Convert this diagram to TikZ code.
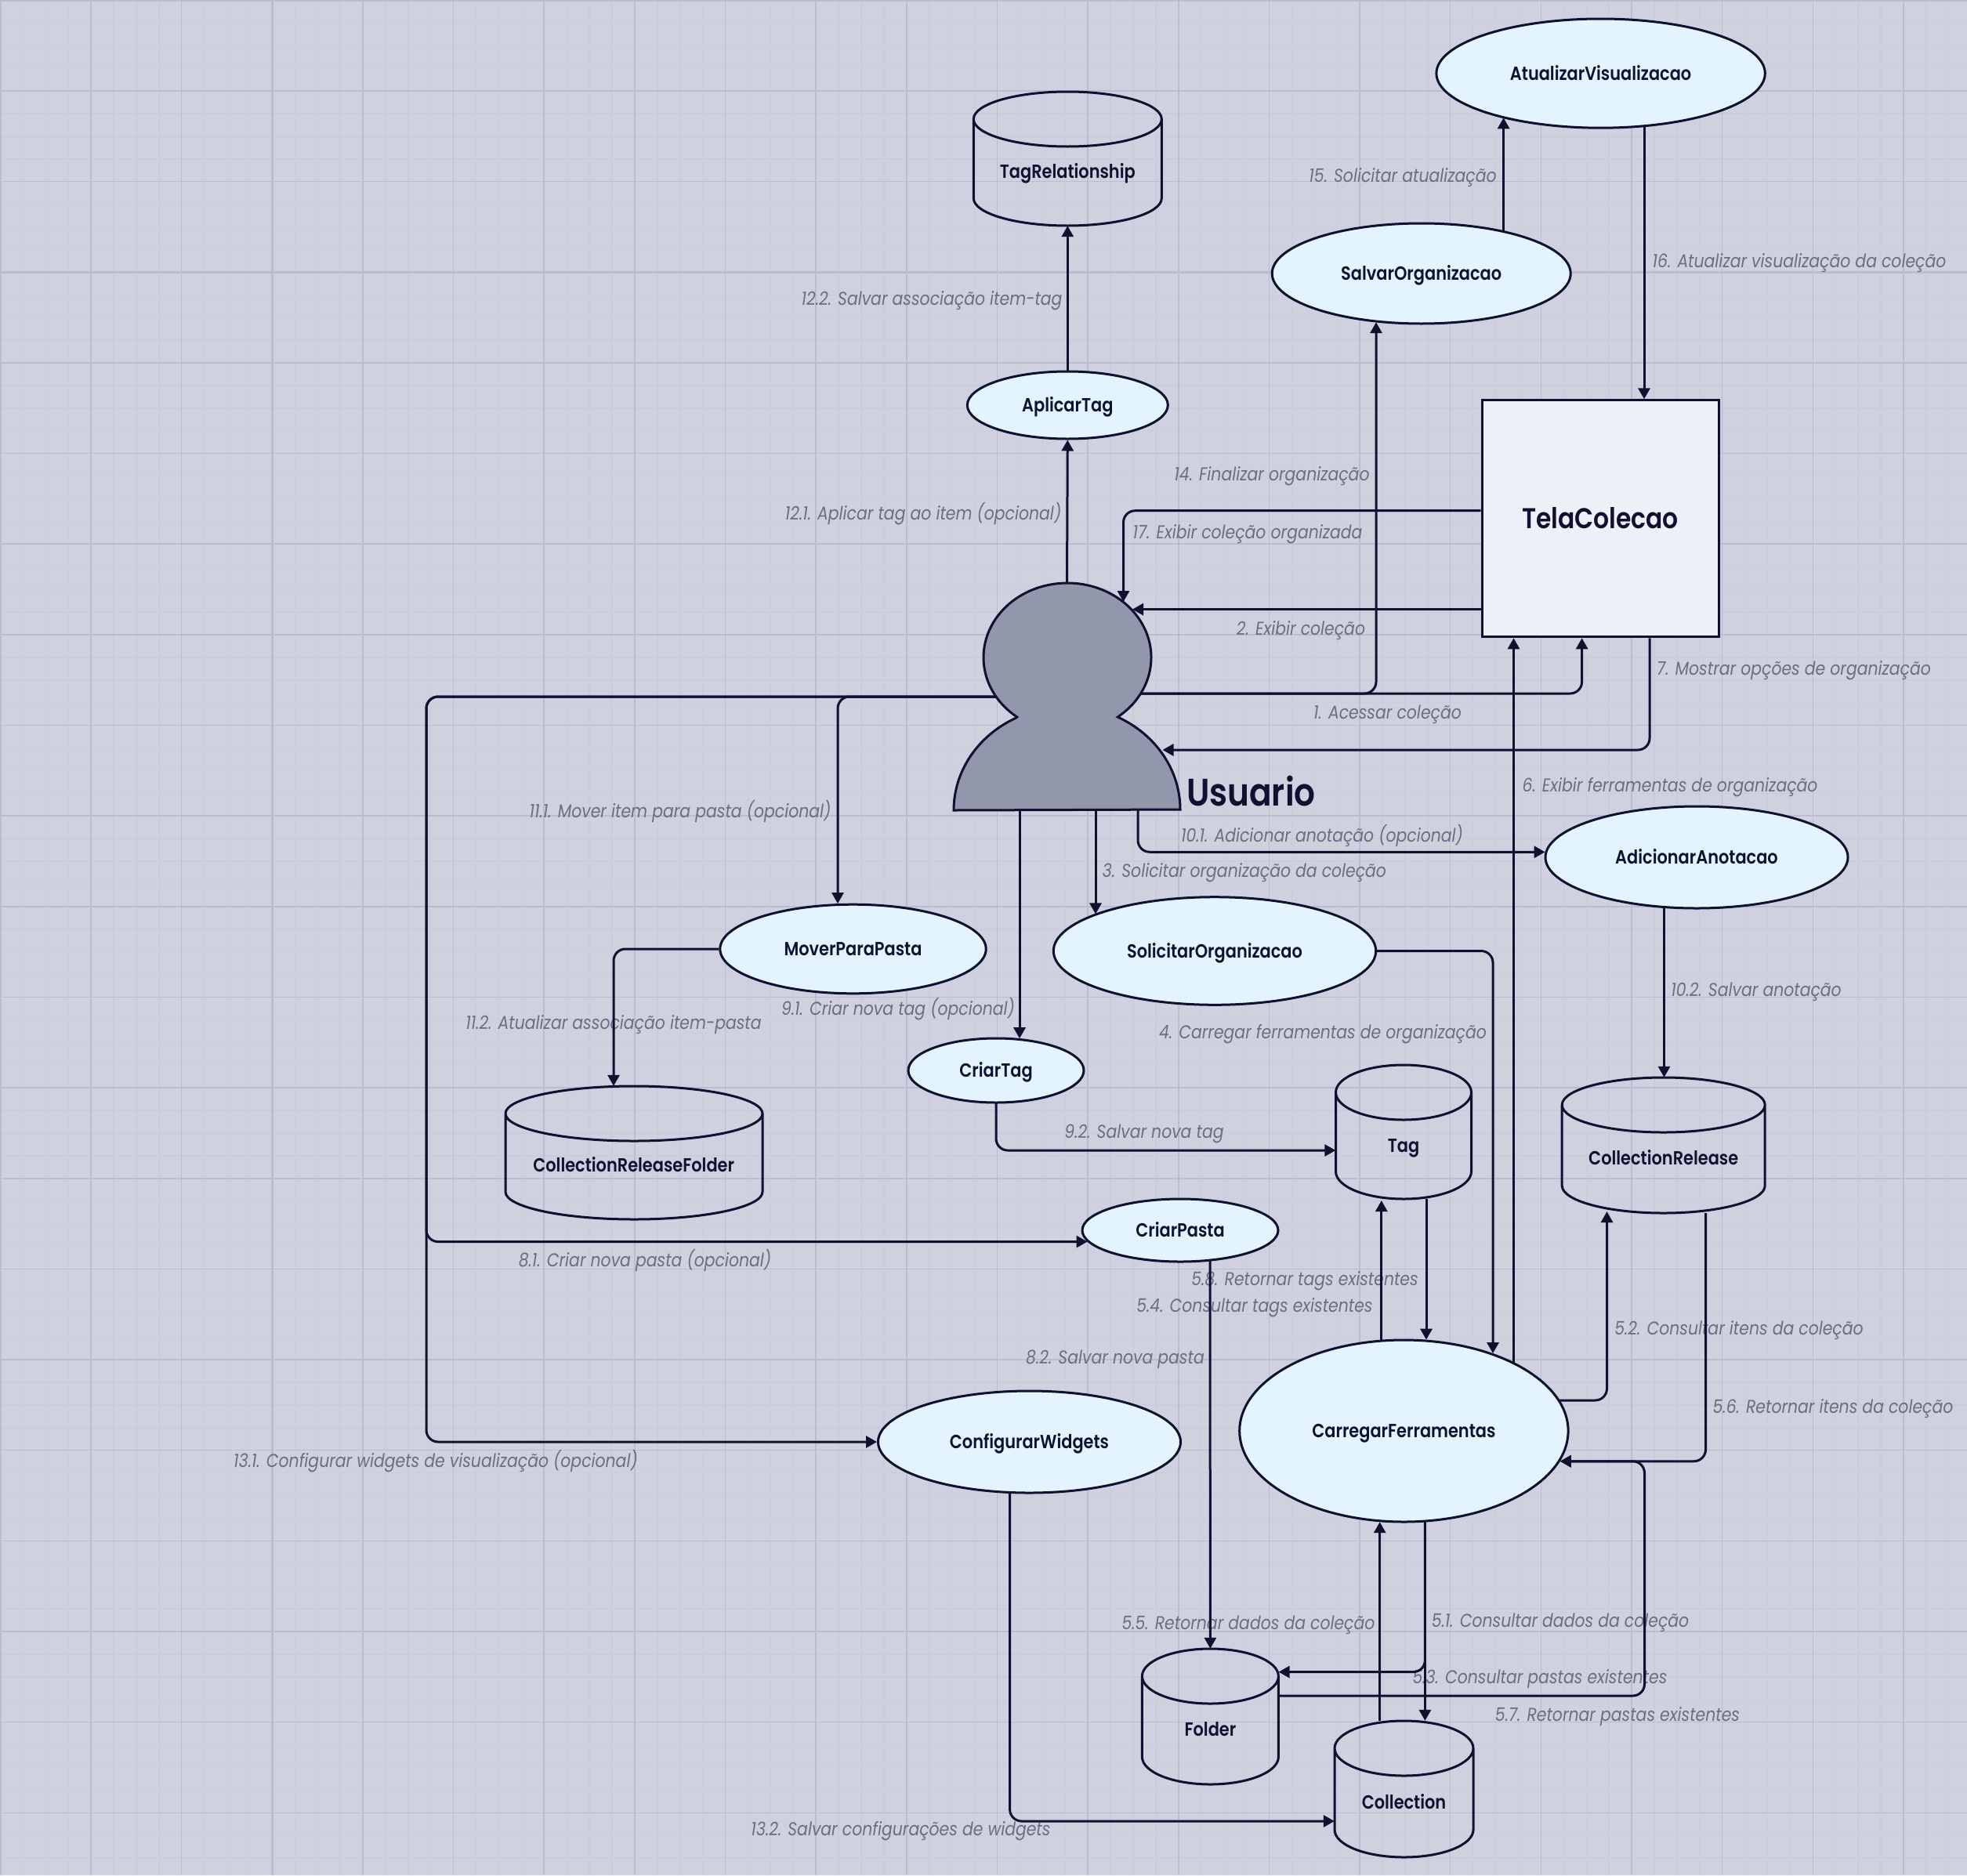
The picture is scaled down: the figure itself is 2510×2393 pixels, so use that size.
\documentclass[tikz,border=0pt]{standalone}
\usepackage{fontspec}
\usetikzlibrary{arrows.meta,shapes.geometric}
\setmainfont[BoldFont={Poppins SemiBold},FakeStretch=0.86]{Poppins}
\definecolor{bgc}{RGB}{207,209,222}
\definecolor{gmin}{RGB}{201,204,218}
\definecolor{gmaj}{RGB}{186,189,209}
\definecolor{ink}{RGB}{14,17,48}
\definecolor{lab}{RGB}{107,110,130}
\definecolor{ellfill}{RGB}{227,244,255}
\definecolor{telafill}{RGB}{238,240,248}
\definecolor{actfill}{RGB}{147,151,171}
\pgfdeclarelayer{gridl}\pgfdeclarelayer{labl}\pgfdeclarelayer{connl}
\pgfsetlayers{gridl,labl,connl,main}
\tikzset{
 proc/.style={shape=ellipse,draw=ink,fill=ellfill,line width=3pt,inner sep=0pt,text height=17pt,text depth=0pt,font=\fontsize{24.3}{26}\selectfont\bfseries,text=ink},
 box/.style={shape=rectangle,inner sep=0pt},
 cylst/.style={draw=ink,line width=3pt},
 cyltext/.style={inner sep=0pt,text height=17pt,text depth=0pt,font=\fontsize{24.3}{26}\selectfont\bfseries,text=ink},
 conn/.style={draw=ink,line width=3pt,rounded corners=15pt,-{Triangle[length=14pt,width=15pt]}},
 flow/.style={inner sep=0pt,yshift=-3pt,font=\fontsize{23.7}{26}\selectfont\itshape,text=lab},
}
\newcommand\Ell[6]{\node[proc,minimum width=#4pt,minimum height=#5pt] (#1) at (#2,#3) {#6};}
\newcommand\Cyl[5]{%
 \pgfmathsetmacro\cx{#2}\pgfmathsetmacro\tp{#3}\pgfmathsetmacro\bt{#4}\pgfmathsetmacro\hw{#5}%
 \node[box,minimum width=2*\hw pt,minimum height=(\bt-\tp)*1pt] (#1) at (\cx,{-(\tp+\bt)/2}) {};
 \draw[cylst] ({\cx-\hw},{-(\tp+35)}) arc[start angle=180,end angle=540,x radius=\hw,y radius=35]
   -- ({\cx-\hw},{-(\bt-35)}) arc[start angle=180,end angle=360,x radius=\hw,y radius=35] -- ({\cx+\hw},{-(\tp+35)});
}
\newcommand\Flow[4]{\node[flow] (#1) at (#2,#3) {#4};}
\begin{document}
\begin{tikzpicture}[x=1pt,y=1pt]
\useasboundingbox (0,0) rectangle (2510,-2393);
\begin{pgfonlayer}{gridl}
\fill[bgc] (0,0) rectangle (2510,-2393);
\foreach \i in {0,...,87}{
  \pgfmathsetmacro\p{\i*28.91+0.5}
  \draw[gmin,line width=1.4pt] (\p,0) -- (\p,-2393);
  \ifnum\i<83 \draw[gmin,line width=1.4pt] (0,-\p) -- (2510,-\p); \fi
}
\foreach \i in {0,...,21}{
  \pgfmathsetmacro\p{\i*115.64+0.5}
  \draw[gmaj,line width=1.4pt] (\p,0) -- (\p,-2393);
  \ifnum\i<21 \draw[gmaj,line width=1.4pt] (0,-\p) -- (2510,-\p); \fi
}
\foreach \i in {0,...,7}{
  \pgfmathsetmacro\p{\i*346.92+0.5}
  \draw[gmaj,line width=2.2pt] (\p,0) -- (\p,-2393);
  \ifnum\i<7 \draw[gmaj,line width=2.2pt] (0,-\p) -- (2510,-\p); \fi
}
\end{pgfonlayer}

% processes
\Ell{av}{2042.6}{-93.6}{419.4}{139.2}{AtualizarVisualizacao}
\Ell{sv}{1813.7}{-349}{381}{128}{SalvarOrganizacao}
\Ell{ap}{1362.3}{-517}{256}{86}{AplicarTag}
\Ell{mv}{1088.5}{-1211}{339.4}{113.6}{MoverParaPasta}
\Ell{so}{1550}{-1213.5}{411.4}{137.6}{SolicitarOrganizacao}
\Ell{ad}{2165}{-1094}{386}{130}{AdicionarAnotacao}
\Ell{ct}{1271}{-1366}{224}{82}{CriarTag}
\Ell{cp}{1506}{-1570}{250}{80}{CriarPasta}
\Ell{cw}{1313.5}{-1840}{386}{130}{ConfigurarWidgets}
\Ell{cf}{1791.4}{-1826}{419.4}{232}{CarregarFerramentas}

% screen
\node[box,draw=ink,fill=telafill,line width=3pt,minimum width=302pt,minimum height=302pt,text height=26pt,text depth=0pt,font=\fontsize{36.5}{40}\selectfont\bfseries,text=ink] (tela) at (2042,-661.8) {TelaColecao};

% stores
\Cyl{tr}{1362.3}{117}{288}{120}
\node[cyltext] (tr-t) at (1362.3,-219) {TagRelationship};
\Cyl{crf}{809}{1386}{1556}{164}
\node[cyltext] (crf-t) at (808.7,-1487) {CollectionReleaseFolder};
\Cyl{tg}{1791}{1359}{1530}{86.5}
\node[cyltext] (tg-t) at (1791,-1461.5) {Tag};
\Cyl{cr}{2122.7}{1375}{1548}{129.5}
\node[cyltext] (cr-t) at (2122.7,-1477.6) {CollectionRelease};
\Cyl{fo}{1544.4}{2104}{2277}{87}
\node[cyltext] (fo-t) at (1544.4,-2207) {Folder};
\Cyl{co}{1791.5}{2196}{2370}{88.5}
\node[cyltext] (co-t) at (1791.5,-2300) {Collection};

% actor
\draw[draw=ink,fill=actfill,line width=3pt] (1297.8,-915)
  arc[start angle=233.13,end angle=-53.13,x radius=107,y radius=95]
  arc[start angle=63.4,end angle=0,x radius=144.5,y radius=132]
  -- (1217,-1034)
  arc[start angle=180,end angle=116.6,x radius=144.5,y radius=132] -- cycle;
\node[box,minimum width=289pt,minimum height=290pt] (usr) at (1361.5,-889) {};
\node[inner sep=0pt,anchor=west,font=\fontsize{49}{52}\selectfont\bfseries,text=ink] (usr-t) at (1514,-1009) {Usuario};

% named ends on curved outlines
\coordinate (u2) at (1445,-777.6);
\coordinate (u17) at (1433.5,-768);
\coordinate (u7) at (1483.5,-957);
\coordinate (cr52) at (2050.5,-1546);
\coordinate (tg54) at (1762.8,-1532);

\begin{pgfonlayer}{connl}
\draw[conn] (usr.center |- 0,-885) -| (tela.south -| 2018.6,0);
\draw[conn] (usr.center |- 0,-885) -| (sv.226.6 -| 1756,0);
\draw[conn] (tela.west |- 0,-777.6) -- (u2);
\draw[conn] (tela.west |- 0,-651.7) -| (u17);
\draw[conn] (tela.south -| 2105,0) |- (u7);
\draw[conn] (cf.center -| 1931.5,0) -- (tela.south -| 1931.5,0);
\draw[conn] (usr.south -| 1398,0) -- (so.163 -| 1398,0);
\draw[conn] (usr.south -| 1452,0) |- (ad.178.2);
\draw[conn] (usr.south -| 1301,0) -- (ct.52.8 -| 1301,0);
\draw[conn] (so.east) -| (cf.41.2 -| 1905,0);
\draw[conn] (usr.center |- 0,-889) -| (mv.109 -| 1069,0);
\draw[conn] (usr.center |- 0,-889) -| (544,-1200) |- (cp.187);
\draw[conn] (usr.center |- 0,-889) -| (544,-1200) |- (cw.west);
\draw[conn] (usr.north) -- (ap.south);
\draw[conn] (ap.north) -- (tr.south);
\draw[conn] (sv.center -| 1918.6,0) -- (av.204.3 -| 1918.6,0);
\draw[conn] (av.center -| 2098,0) -- (tela.north -| 2098,0);
\draw[conn] (ad.center -| 2123.5,0) -- (cr.north -| 2123.5,0);
\draw[conn] (mv.west) -| (crf.north -| 783,0);
\draw[conn] (ct.center) |- (tg.west |- 0,-1468);
\draw[conn] (cf.center -| 1762.8,0) -- (tg54);
\draw[conn] (tg.south -| 1820,0) -- (cf.76.2 -| 1820,0);
\draw[conn] (cf.center |- 0,-1787) -| (cr52);
\draw[conn] (cr.south -| 2176.5,0) |- (cf.349.2);
\draw[conn] (fo.east |- 0,-2164) -| (2098.5,-2000) |- (cf.349.2);
\draw[conn] (cf.center -| 1818.4,0) |- (fo.east |- 0,-2133.6);
\draw[conn] (cf.center -| 1818.4,0) -- (co.north -| 1818.4,0);
\draw[conn] (co.north -| 1760.7,0) -- (cf.255.1 -| 1760.7,0);
\draw[conn] (cp.center -| 1544,0) -- (fo.north);
\draw[conn] (cw.center -| 1288.6,0) |- (co.west |- 0,-2324);
\end{pgfonlayer}

\begin{pgfonlayer}{labl}
\Flow{l1}{1770.5}{-909}{1. Acessar coleção}
\Flow{l2}{1660}{-802}{2. Exibir coleção}
\Flow{l3}{1588}{-1111}{3. Solicitar organização da coleção}
\Flow{l4}{1688}{-1317}{4. Carregar ferramentas de organização}
\Flow{l51}{1991}{-2068}{5.1. Consultar dados da coleção}
\Flow{l52}{2219}{-1695}{5.2. Consultar itens da coleção}
\Flow{l53}{1965}{-2140}{5.3. Consultar pastas existentes}
\Flow{l54}{1601}{-1666}{5.4. Consultar tags existentes}
\Flow{l55}{1593}{-2071}{5.5. Retornar dados da coleção}
\Flow{l56}{2339}{-1795}{5.6. Retornar itens da coleção}
\Flow{l57}{2064}{-2188}{5.7. Retornar pastas existentes}
\Flow{l58}{1665}{-1632}{5.8. Retornar tags existentes}
\Flow{l6}{2131}{-1002}{6. Exibir ferramentas de organização}
\Flow{l7}{2289}{-853}{7. Mostrar opções de organização}
\Flow{l81}{823}{-1605}{8.1. Criar nova pasta (opcional)}
\Flow{l82}{1423}{-1732}{8.2. Salvar nova pasta}
\Flow{l91}{1146}{-1285}{9.1. Criar nova tag (opcional)}
\Flow{l92}{1460}{-1444}{9.2. Salvar nova tag}
\Flow{l101}{1687}{-1063}{10.1. Adicionar anotação (opcional)}
\Flow{l102}{2241}{-1263}{10.2. Salvar anotação}
\Flow{l111}{868}{-1032}{11.1. Mover item para pasta (opcional)}
\Flow{l112}{783}{-1305}{11.2. Atualizar associação item-pasta}
\Flow{l121}{1178}{-653}{12.1. Aplicar tag ao item (opcional)}
\Flow{l122}{1189}{-381}{12.2. Salvar associação item-tag}
\Flow{l131}{556}{-1862}{13.1. Configurar widgets de visualização (opcional)}
\Flow{l132}{1149.5}{-2334}{13.2. Salvar configurações de widgets}
\Flow{l14}{1623}{-605}{14. Finalizar organização}
\Flow{l15}{1790}{-224}{15. Solicitar atualização}
\Flow{l16}{2296}{-333}{16. Atualizar visualização da coleção}
\Flow{l17}{1592}{-679}{17. Exibir coleção organizada}
\end{pgfonlayer}
\end{tikzpicture}
\end{document}
